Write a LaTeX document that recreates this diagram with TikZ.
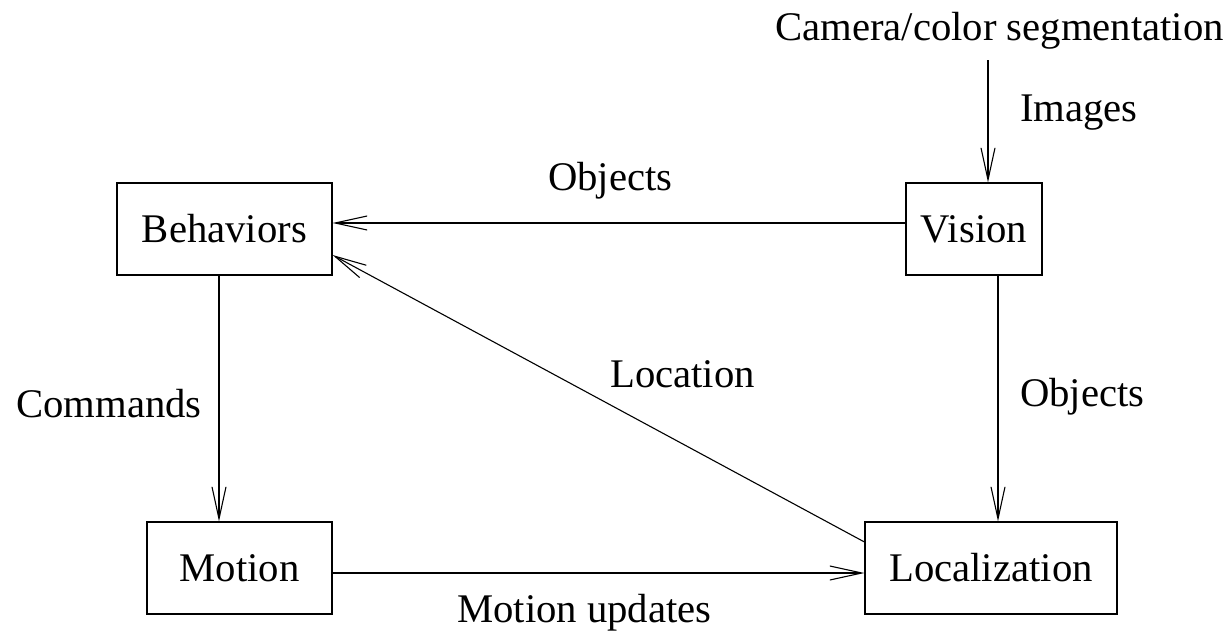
\documentclass[tikz,border=0pt]{standalone}
\usepackage{fontspec}
\setmainfont{Liberation Serif}
\usetikzlibrary{arrows.meta}
\begin{document}
\begin{tikzpicture}[x=1pt,y=-1pt,
  every node/.style={font=\fontsize{40.7}{48}\selectfont},
  box/.style={draw,line width=1.1pt,inner sep=0pt,minimum height=92pt},
  lbl/.style={anchor=base west,inner sep=0pt},
  arr/.style={line width=1.1pt,-{Straight Barb[length=32pt,width=14pt,line width=1.1pt]}}]
\useasboundingbox (0,0) rectangle (1232,632);
\node[box,minimum width=215pt] (Behaviors) at (224.5,229) {Behaviors};
\node[box,minimum width=136pt] (Vision) at (974,229) {Vision};
\node[box,minimum width=185pt] (Motion) at (239.5,568) {Motion};
\node[box,minimum width=252pt] (Localization) at (991,568) {Localization};
\node[lbl] (cam) at (775,40) {Camera/color segmentation};
\node[lbl] (images) at (1020,121) {Images};
\node[lbl] (obj1) at (548,190) {Objects};
\node[lbl] (loc) at (610,387) {Location};
\node[lbl] (cmd) at (16,417) {Commands};
\node[lbl] (obj2) at (1020,406) {Objects};
\node[lbl] (mupd) at (457,622) {Motion updates};
\coordinate (camout) at (988,60);
\draw[arr] (camout) -- (988,0 |- Vision.north);
\draw[arr] (Vision.west |- 0,223) -- (Behaviors.east |- 0,223);
\draw[arr] (Localization.west |- 0,542) -- (Behaviors.east |- 0,255);
\draw[arr] (219,0 |- Behaviors.south) -- (219,0 |- Motion.north);
\draw[arr] (998,0 |- Vision.south) -- (998,0 |- Localization.north);
\draw[arr] (Motion.east |- 0,573) -- (Localization.west |- 0,573);
\end{tikzpicture}
\end{document}
